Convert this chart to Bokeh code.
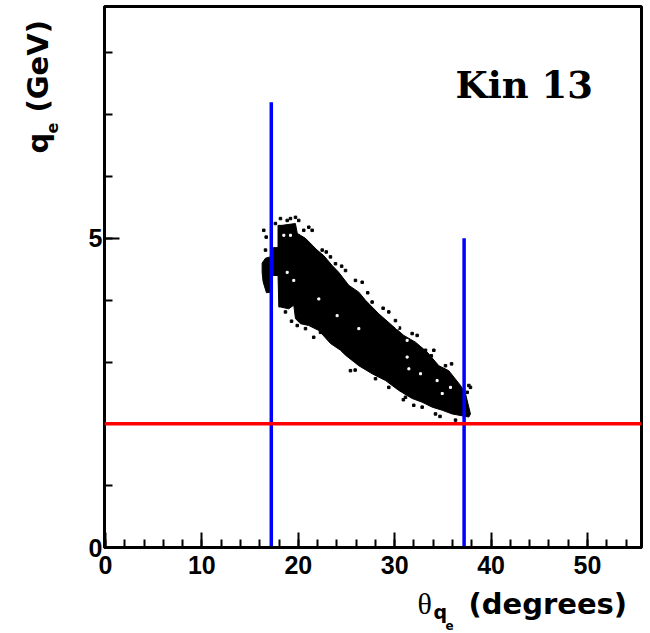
from bokeh.plotting import figure
from bokeh.models import Range1d, FixedTicker, Label, Span
from bokeh.layouts import row, column
from bokeh.embed import file_html
from bokeh.resources import INLINE

# ---- data ----
# outline of the dense (theta, q) event band
band_top_theta = [17.9, 18.3, 19.7, 19.9, 20.75, 21.96, 22.65, 23.52, 24.2, 25.24, 26.28, 26.97,
                  28.35, 29.74, 30.95, 32.16, 33.37, 34.58, 35.61, 36.83, 37.34, 37.86]
band_top_q = [5.21, 5.21, 5.24, 5.08, 5.00, 4.81, 4.72, 4.56, 4.45, 4.24, 4.13, 4.00,
              3.78, 3.59, 3.43, 3.32, 3.16, 2.94, 2.86, 2.62, 2.49, 2.16]
band_bottom_theta = [37.69, 35.96, 34.93, 33.89, 32.85, 31.81, 30.43, 29.05, 27.66, 26.28, 24.9, 24.38,
                     23.34, 22.13, 21.09, 20.23, 19.71, 19.53, 19.01, 18.15, 17.98, 17.9, 17.4, 17.4, 17.9]
band_bottom_q = [2.11, 2.16, 2.22, 2.27, 2.35, 2.41, 2.54, 2.70, 2.81, 2.94, 3.11, 3.19,
                 3.30, 3.51, 3.59, 3.62, 3.70, 3.92, 3.86, 3.89, 3.89, 4.40, 4.40, 4.85, 4.85]
# small group of events left of the first theta cut
blob_theta = [16.25, 16.6, 17.1, 17.1, 16.7, 16.35, 16.25]
blob_q = [4.60, 4.68, 4.70, 4.13, 4.12, 4.30, 4.45]
# isolated events around the band edges
stray_theta = [18.85, 19.19, 19.71, 20.05, 21.09, 21.44, 20.57, 16.42, 16.67, 16.60, 22.48, 23.34,
               23.86, 24.90, 25.93, 26.63, 17.63, 18.15, 22.30, 20.75, 19.89, 18.67, 27.66, 29.39,
               30.08, 31.81, 32.33, 31.30, 33.20, 34.06, 35.27, 36.31, 37.69, 37.52, 36.31, 34.23,
               25.41, 26.45, 28.01, 29.39, 31.12, 31.98, 32.85, 37.86, 22.9, 24.5, 27.2, 28.8,
               30.5, 33.8, 35.9, 21.6, 19.3, 25.9, 30.9, 34.7]
stray_q = [5.29, 5.32, 5.34, 5.29, 5.18, 5.13, 5.13, 5.13, 5.02, 4.81, 4.81, 4.70,
           4.59, 4.48, 4.32, 4.29, 5.24, 5.32, 3.48, 3.54, 3.59, 3.81, 3.97, 3.81,
           3.67, 3.46, 3.43, 3.35, 3.19, 3.19, 2.94, 2.65, 2.62, 2.51, 2.06, 2.16,
           2.86, 2.97, 2.73, 2.59, 2.43, 2.30, 2.27, 2.59, 4.78, 4.55, 4.12, 3.87,
           3.55, 3.10, 2.97, 3.40, 3.66, 2.87, 2.39, 2.12]
# empty cells inside the band
hole_theta = [18.5, 19.19, 18.85, 19.53, 22.13, 24.03, 26.28, 30.26, 31.29, 31.47, 32.68, 34.4,
              34.93, 35.79, 31.29]
hole_q = [5.05, 5.05, 4.45, 4.32, 4.02, 3.75, 3.54, 3.56, 3.35, 2.89, 2.81, 2.70,
          2.49, 2.59, 3.08]
# cut lines
cut_theta = [17.2, 37.2]
cut_theta_top = [7.2, 5.0]
cut_q = 2.0
# axis ticks
x_major_ticks = [0, 10, 20, 30, 40, 50]
x_minor_ticks = [0, 2, 4, 6, 8, 10, 12, 14, 16, 18, 20, 22, 24, 26, 28, 30, 32, 34, 36, 38,
                 40, 42, 44, 46, 48, 50, 52, 54]
y_major_ticks = [0, 5]
y_minor_ticks = [0, 1, 2, 3, 4, 5, 6, 7, 8]

# ---- main plot ----
p = figure(width=580, height=585, output_backend="svg", toolbar_location=None,
           x_range=Range1d(-0.1, 55.6), y_range=Range1d(0, 8.75),
           min_border_left=34, min_border_right=9, min_border_top=6, min_border_bottom=38)
p.background_fill_color = "white"
p.border_fill_color = "white"
p.xgrid.grid_line_color = None
p.ygrid.grid_line_color = None
p.outline_line_color = "black"
p.outline_line_width = 3

for ax, maj, mnr in ((p.xaxis[0], x_major_ticks, x_minor_ticks), (p.yaxis[0], y_major_ticks, y_minor_ticks)):
    ax.ticker = FixedTicker(ticks=maj, minor_ticks=mnr)
    ax.axis_line_width = 3
    ax.axis_line_color = "black"
    ax.major_tick_in = 15
    ax.major_tick_out = 0
    ax.minor_tick_in = 8
    ax.minor_tick_out = 0
    ax.major_tick_line_width = 2
    ax.minor_tick_line_width = 2
    ax.major_label_text_font = "Liberation Sans"
    ax.major_label_text_font_style = "bold"
    ax.major_label_text_font_size = "25px"
    ax.major_label_text_color = "black"
p.xaxis.major_label_standoff = 8
p.yaxis.major_label_standoff = 2

# event cloud
p.patch(band_top_theta + band_bottom_theta, band_top_q + band_bottom_q,
        fill_color="black", line_color="black", line_width=1)
p.patch(blob_theta, blob_q, fill_color="black", line_color="black", line_width=1)
p.scatter(stray_theta, stray_q, marker="square", size=2.5, color="black")
p.scatter(hole_theta, hole_q, marker="square", size=2, color="white")

# cuts
p.add_layout(Span(location=cut_q, dimension="width", line_color="#ff0000", line_width=3.5))
p.segment(x0=cut_theta, y0=[0, 0], x1=cut_theta, y1=cut_theta_top, line_color="#0000ff", line_width=3.5)


def lab(fig, text, x, y, font, size, style="bold", angle=0, baseline="alphabetic"):
    fig.add_layout(Label(x=x, y=y, x_units="screen", y_units="screen", text=text,
                         text_font=font, text_font_size=size, text_font_style=style,
                         text_color="black", text_align="left", text_baseline=baseline,
                         angle=angle, angle_units="deg"))


lab(p, "Kin 13", 351, 463, "DejaVu Serif", "37px")


def blank(w, h):
    f = figure(width=w, height=h, output_backend="svg", toolbar_location=None,
               x_range=Range1d(0, w), y_range=Range1d(0, h), x_axis_type=None, y_axis_type=None,
               min_border=0, min_border_left=0, min_border_right=0, min_border_top=0, min_border_bottom=0)
    f.outline_line_color = None
    f.background_fill_color = "white"
    f.border_fill_color = "white"
    return f


# x-axis title strip (below the main plot; its frame lines up with the main frame)
xt = blank(580, 48)
lab(xt, "θ", 313, 47, "Liberation Serif", "30px", style="normal", baseline="top")
lab(xt, "q", 329, 33, "DejaVu Sans", "19px", baseline="top")
lab(xt, "e", 341, 13, "DejaVu Sans", "12px", baseline="top")
lab(xt, "(degrees)", 364, 47, "DejaVu Sans", "29px", baseline="top")

# y-axis title strip (left of the main plot)
yt = blank(70, 633)
lab(yt, "q", 37, 480, "DejaVu Sans", "29px", angle=90)
lab(yt, "e", 51, 500, "DejaVu Sans", "16px", angle=90)
lab(yt, "(GeV)", 37, 521, "DejaVu Sans", "29px", angle=90)

layout = row(yt, column(p, xt, spacing=0), spacing=0)
open("out.html", "w").write(file_html(layout, INLINE))
